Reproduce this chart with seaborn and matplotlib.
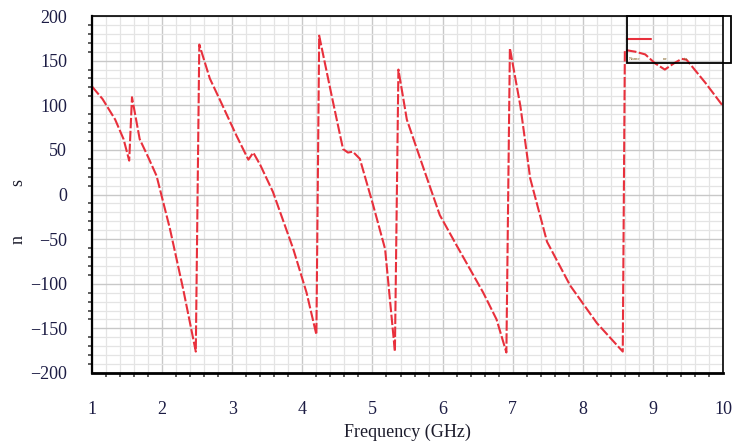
import matplotlib
matplotlib.use("Agg")
import matplotlib.pyplot as plt
from matplotlib.ticker import MultipleLocator
from matplotlib.patches import Rectangle
from matplotlib.lines import Line2D
import seaborn as sns
import pandas as pd

sns.set_theme(style="white")
plt.rcParams['font.family'] = ['Liberation Serif', 'DejaVu Serif']

freq = [1.0, 1.15, 1.33, 1.45, 1.53, 1.57, 1.68, 1.80, 1.92, 2.11, 2.30, 2.48,
        2.53, 2.68, 2.83, 3.06, 3.23, 3.30, 3.40, 3.58, 3.87, 4.06, 4.20,
        4.24, 4.42, 4.58, 4.65, 4.72, 4.82, 5.01, 5.18, 5.32,
        5.37, 5.49, 5.73, 5.96, 6.20, 6.58, 6.77, 6.91,
        6.96, 7.11, 7.25, 7.49, 7.82, 8.20, 8.57,
        8.60, 8.75, 8.89, 9.03, 9.17, 9.30, 9.41, 9.48, 9.75, 10.0]
delay = [121, 107, 84, 62, 38, 109, 62, 42, 21, -38, -106, -176,
         168, 130, 105, 66, 39, 47, 33, 3, -61, -110, -157,
         178, 110, 51, 47, 48, 40, -12, -61, -176,
         140, 84, 29, -23, -57, -110, -140, -177,
         164, 99, 18, -53, -102, -144, -176,
         162, 160, 157, 147, 140, 147, 152, 151, 125, 99]
x_ticks = [1, 2, 3, 4, 5, 6, 7, 8, 9, 10]
y_ticks = [-200, -150, -100, -50, 0, 50, 100, 150, 200]

df = pd.DataFrame({"Frequency": freq, "Delay": delay})

fig = plt.figure(figsize=(7.38, 4.45), dpi=100)
ax = fig.add_axes([0.1247, 0.1618, 0.8550, 0.8022])

ax.xaxis.set_minor_locator(MultipleLocator(0.2))
ax.yaxis.set_minor_locator(MultipleLocator(10))
ax.grid(which='major', color='#c8c8c8', linewidth=1.0)
ax.grid(which='minor', color='#e4e4e4', linewidth=0.9)
ax.set_axisbelow(True)

sns.lineplot(data=df, x="Frequency", y="Delay", sort=False, estimator=None,
             color='#e8303c', linewidth=1.5, dashes=False, ax=ax)
ax.lines[-1].set_linestyle((0, (5, 1.2)))

ax.set_xlim(1, 10)
ax.set_ylim(-200, 200)
ax.set_xticks(x_ticks)
ax.set_yticks(y_ticks)
ax.set_xticklabels([str(v) for v in x_ticks])
ax.set_yticklabels([str(v).replace('-', '\u2212') for v in y_ticks])

for s in ax.spines.values():
    s.set_color('black')
    s.set_linewidth(1.2)
ax.spines['bottom'].set_linewidth(2.0)
ax.spines['left'].set_linewidth(1.6)

ax.tick_params(which='major', direction='inout', length=12, width=1.8,
               color='black', labelsize=13, labelcolor='#1c1c44')
ax.tick_params(axis='x', which='major', pad=14)
ax.tick_params(axis='y', which='major', pad=12)
ax.tick_params(which='minor', direction='out', length=3, width=1.2,
               color='#444444', left=True, bottom=True)
ax.tick_params(top=False, right=False, which='both')

ax.set_xlabel("Frequency (GHz)", fontsize=13, color='#1c1c2c', labelpad=4)
ax.set_ylabel("")

fig.text(0.024, 1 - 183 / 445, "s", rotation=90, fontsize=13,
         ha='center', va='center', color='#1c1c2c')
fig.text(0.024, 1 - 240 / 445, "n", rotation=90, fontsize=13,
         ha='center', va='center', color='#1c1c2c')

# legend box
fig.patches.append(Rectangle((627 / 738, 1 - 63 / 445), 104 / 738, 47 / 445,
                             transform=fig.transFigure, fill=False,
                             edgecolor='black', linewidth=1.3, zorder=10))
fig.lines.append(Line2D([627 / 738, 651 / 738], [1 - 39 / 445, 1 - 39 / 445],
                        transform=fig.transFigure, color='#e8303c', linewidth=1.5))
for tx, lab in [(629, "Name"), (663, "ne"), (684, "tu")]:
    fig.text(tx / 738, 1 - 59 / 445, lab, fontsize=3.5, color='#806020',
             ha='left', va='center')

fig.savefig("out.png", dpi=100)
